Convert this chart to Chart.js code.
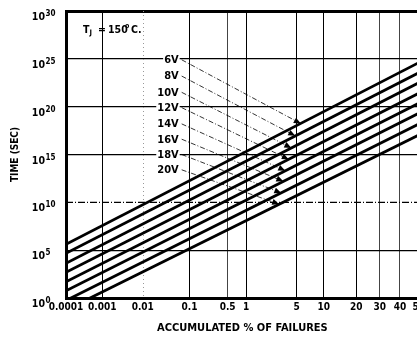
<!DOCTYPE html>
<html lang="en">
  <head>
    <meta charset="UTF-8" />
    <script src="https://cdn.jsdelivr.net/npm/chart.js@4.4.1/dist/chart.umd.min.js"></script>
    <title>time to failure</title>
    <style>
      body {
        margin: 0;
        padding: 0;
        background: #fff;
        overflow: hidden;
      }

      .container {
        width: 428px;
        height: 345px;
      }
    </style>
  </head>
  <body>
    <div class="container">
      <canvas id="chart"></canvas>
    </div>
    <script>
      // accumulated % of failures (probability axis) and time in seconds (log axis)
      const voltages = ['6V', '8V', '10V', '12V', '14V', '16V', '18V', '20V']
      const pctAtStart = 0.0001
      const pctAtEnd = 50
      // log10(time) of each line at 0.0001 % and at 50 %
      const logTimeStart = [5.61, 4.67, 3.63, 2.69, 1.7, 0.76, -0.26, -1.25]
      const logTimeEnd = [24.6, 23.55, 22.5, 21.4, 20.35, 19.31, 18.19, 17.04]
      const xTicks = [0.0001, 0.001, 0.01, 0.1, 0.5, 1, 5, 10, 20, 30, 40, 50]
      const yTickExps = [0, 5, 10, 15, 20, 25, 30]
      // voltage labels and where their arrows point
      const labelPct = 0.07
      const labelLogTime = [24.9, 23.2, 21.5, 19.9, 18.2, 16.6, 15.0, 13.4]
      const arrowPct = [5.6, 4.8, 4.3, 4.0, 3.6, 3.4, 3.2, 3.0]
      const arrowLogTime = [18.23, 16.95, 15.69, 14.49, 13.31, 12.2, 10.98, 9.81]

      const narrow = '"Liberation Sans Narrow", "DejaVu Sans Condensed", sans-serif'
      const cond = '"DejaVu Sans Condensed", "Liberation Sans", sans-serif'

      // inverse of the normal distribution (Acklam)
      const probit = (p) => {
        const a = [-39.69683028665376, 220.9460984245205, -275.9285104469687, 138.357751867269, -30.66479806614716, 2.506628277459239]
        const b = [-54.47609879822406, 161.5858368580409, -155.6989798598866, 66.80131188771972, -13.28068155288572]
        const c = [-0.007784894002430293, -0.3223964580411365, -2.400758277161838, -2.549732539343734, 4.374664141464968, 2.938163982698783]
        const d = [0.007784695709041462, 0.3224671290700398, 2.445134137142996, 3.754408661907416]
        const lo = 0.02425
        if (p < lo) {
          const q = Math.sqrt(-2 * Math.log(p))
          return (((((c[0] * q + c[1]) * q + c[2]) * q + c[3]) * q + c[4]) * q + c[5]) /
            ((((d[0] * q + d[1]) * q + d[2]) * q + d[3]) * q + 1)
        }
        if (p <= 1 - lo) {
          const q = p - 0.5
          const r = q * q
          return ((((((a[0] * r + a[1]) * r + a[2]) * r + a[3]) * r + a[4]) * r + a[5]) * q) /
            (((((b[0] * r + b[1]) * r + b[2]) * r + b[3]) * r + b[4]) * r + 1)
        }
        return -probit(1 - p)
      }
      const normCdf = (z) => {
        const t = 1 / (1 + 0.2316419 * Math.abs(z))
        const dd = 0.3989423 * Math.exp((-z * z) / 2)
        const p = dd * t * (0.3193815 + t * (-0.3565638 + t * (1.781478 + t * (-1.821256 + t * 1.330274))))
        return z > 0 ? 1 - p : p
      }

      // probability paper axis, values in %
      class ProbitScale extends Chart.Scale {
        static id = 'probit'
        static defaults = {}
        parse(raw) {
          return +raw
        }
        determineDataLimits() {
          const { min, max } = this.getUserBounds()
          this.min = min
          this.max = max
        }
        buildTicks() {
          return xTicks.map((v) => ({ value: v }))
        }
        configure() {
          super.configure()
          this._zmin = probit(this.min / 100)
          this._zmax = probit(this.max / 100)
        }
        getLabelForValue(v) {
          return String(v)
        }
        getPixelForValue(v) {
          return this.getPixelForDecimal((probit(v / 100) - this._zmin) / (this._zmax - this._zmin))
        }
        getValueForPixel(px) {
          const dec = this.getDecimalForPixel(px)
          return normCdf(this._zmin + dec * (this._zmax - this._zmin)) * 100
        }
      }
      Chart.register(ProbitScale)

      const expOf = (v) => Math.round(Math.log10(v))

      const seriesSets = voltages.map((v, i) => ({
        label: v,
        data: [
          { x: pctAtStart, y: 10 ** logTimeStart[i] },
          { x: pctAtEnd, y: 10 ** logTimeEnd[i] },
        ],
        borderColor: '#000',
        borderWidth: 2.8,
        pointRadius: 0,
      }))
      const leaderSets = voltages.map((v, i) => ({
        label: v + ' leader',
        data: [
          { x: labelPct, y: 10 ** labelLogTime[i] },
          { x: arrowPct[i], y: 10 ** arrowLogTime[i] },
        ],
        borderColor: '#000',
        borderWidth: 0.8,
        borderDash: [5, 2, 1, 2],
        pointRadius: 0,
        leader: true,
      }))

      const decorations = {
        id: 'decorations',
        beforeDatasetsDraw(chart) {
          const { ctx, chartArea: a, scales } = chart
          ctx.save()
          ctx.strokeStyle = '#000'
          ctx.lineWidth = 1.2
          ctx.setLineDash([7, 2, 1, 2])
          const yy = scales.y.getPixelForValue(1e10)
          ctx.beginPath()
          ctx.moveTo(a.left, yy)
          ctx.lineTo(a.right, yy)
          ctx.stroke()
          ctx.strokeStyle = '#999'
          ctx.lineWidth = 1
          ctx.setLineDash([1, 3])
          const xx = Math.round(scales.x.getPixelForValue(0.01)) + 0.5
          ctx.beginPath()
          ctx.moveTo(xx, a.top)
          ctx.lineTo(xx, a.bottom)
          ctx.stroke()
          ctx.restore()
        },
        afterDatasetsDraw(chart) {
          const { ctx } = chart
          ctx.save()
          ctx.fillStyle = '#000'
          ctx.font = 'bold 11px ' + narrow
          ctx.textAlign = 'right'
          ctx.textBaseline = 'middle'
          chart.data.datasets.forEach((ds, i) => {
            if (!ds.leader) return
            const [p0, p1] = chart.getDatasetMeta(i).data
            // arrow head
            const ang = Math.atan2(p1.y - p0.y, p1.x - p0.x)
            const len = 7
            const hw = 3
            ctx.beginPath()
            ctx.moveTo(p1.x, p1.y)
            ctx.lineTo(p1.x - len * Math.cos(ang) + hw * Math.sin(ang), p1.y - len * Math.sin(ang) - hw * Math.cos(ang))
            ctx.lineTo(p1.x - len * Math.cos(ang) - hw * Math.sin(ang), p1.y - len * Math.sin(ang) + hw * Math.cos(ang))
            ctx.closePath()
            ctx.fill()
            // voltage label
            const txt = ds.label.replace(' leader', '')
            const w = ctx.measureText(txt).width
            ctx.fillStyle = '#fff'
            ctx.fillRect(p0.x - 3 - w - 1, p0.y - 5, w + 2, 10)
            ctx.fillStyle = '#000'
            ctx.fillText(txt, p0.x - 3, p0.y + 0.5)
          })
          ctx.restore()
        },
        afterDraw(chart) {
          const { ctx, scales } = chart
          ctx.save()
          ctx.fillStyle = '#000'
          ctx.textBaseline = 'alphabetic'
          yTickExps.forEach((e) => {
            const y = scales.y.getPixelForValue(10 ** e)
            ctx.font = 'bold 10.5px ' + narrow
            ctx.textAlign = 'right'
            ctx.fillText('10', 45, y + 9)
            ctx.font = 'bold 8px ' + narrow
            ctx.textAlign = 'left'
            ctx.fillText(String(e), 45.5, y + 5)
          })
          // junction temperature note
          ctx.font = 'bold 10.5px ' + narrow
          ctx.textAlign = 'left'
          ctx.fillText('T', 83, 33)
          ctx.font = 'bold 7.5px ' + narrow
          ctx.fillText('J', 89.5, 35)
          ctx.font = 'bold 10.5px ' + narrow
          ctx.fillText('=', 98, 33)
          ctx.fillText('150', 108, 33)
          ctx.font = 'bold 7px ' + narrow
          ctx.fillText('o', 125, 28)
          ctx.font = 'bold 10.5px ' + narrow
          ctx.fillText('C.', 131, 33)
          ctx.restore()
        },
      }

      new Chart(document.getElementById('chart'), {
        type: 'line',
        data: { datasets: [...seriesSets, ...leaderSets] },
        options: {
          animation: false,
          responsive: true,
          maintainAspectRatio: false,
          layout: { padding: { top: 11, left: 0, right: 0, bottom: 0 } },
          plugins: {
            legend: { display: false },
            tooltip: { enabled: false },
          },
          scales: {
            x: {
              type: 'probit',
              position: 'bottom',
              min: pctAtStart,
              max: pctAtEnd,
              afterFit: (s) => {
                s.height = 47
              },
              grid: {
                drawTicks: false,
                color: (ctx) => {
                  const v = ctx.tick && ctx.tick.value
                  if (v === 0.01) return 'rgba(0,0,0,0)'
                  if (v === 0.5 || v === 30 || v === 40) return '#444'
                  return '#000'
                },
                lineWidth: 1,
              },
              border: { color: '#000', width: 3 },
              ticks: {
                color: '#000',
                font: { family: narrow, size: 10, weight: 'bold' },
                padding: 3,
                autoSkip: false,
                maxRotation: 0,
                minRotation: 0,
                callback: (v) => String(v),
              },
              title: {
                display: true,
                text: 'ACCUMULATED % OF FAILURES',
                color: '#000',
                font: { family: cond, size: 11, weight: 'bold' },
                padding: { top: 0, bottom: 10 },
              },
            },
            y: {
              type: 'logarithmic',
              min: 1,
              max: 1e30,
              afterBuildTicks: (s) => {
                s.ticks = yTickExps.map((e) => ({ value: 10 ** e }))
              },
              afterFit: (s) => {
                s.width = 66
              },
              ticks: { display: false },
              grid: {
                drawTicks: false,
                color: (ctx) => (ctx.tick && expOf(ctx.tick.value) === 10 ? 'rgba(0,0,0,0)' : '#000'),
                lineWidth: (ctx) => (ctx.tick && expOf(ctx.tick.value) === 30 ? 3 : 1.3),
              },
              border: { color: '#000', width: 3 },
              title: {
                display: true,
                text: 'TIME (SEC)',
                color: '#000',
                font: { family: cond, size: 10, weight: 'bold' },
                padding: { top: 9, bottom: 0 },
              },
            },
          },
        },
        plugins: [decorations],
      })
    </script>
  </body>
</html>
